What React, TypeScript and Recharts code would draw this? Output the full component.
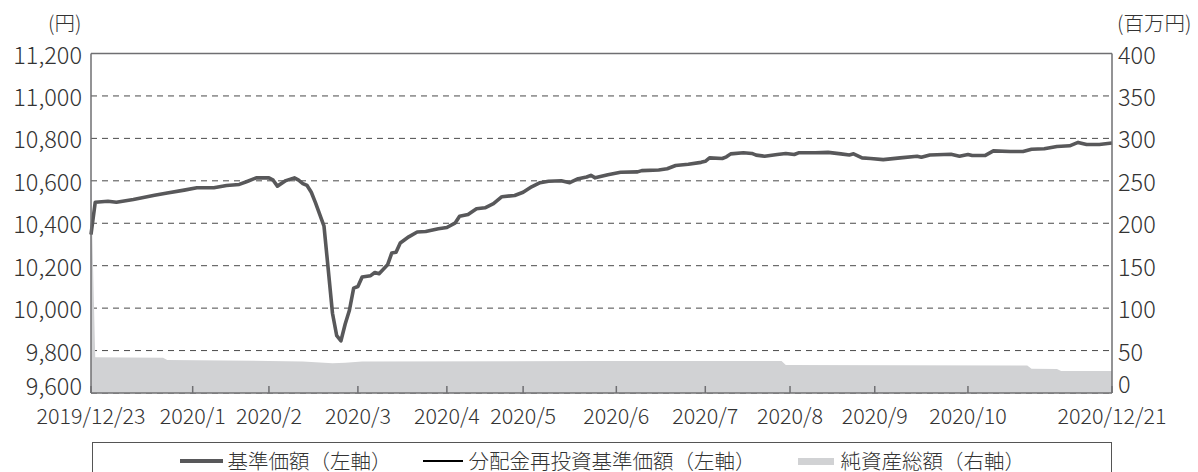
import React from "react";
import {
  ComposedChart,
  Line,
  Area,
  XAxis,
  YAxis,
  CartesianGrid,
  ReferenceLine,
} from "recharts";

// business-day index (0 = 2019/12/23, 241 = 2020/12/21) and 基準価額 (円)
const navPoints: [number, number][] = [
  [0, 10347], [1, 10499], [4, 10504], [6, 10499], [10, 10512], [15, 10532], [18, 10543],
  [22, 10556], [25, 10567], [29, 10567], [32, 10578], [35, 10583], [37, 10598], [39, 10614],
  [42, 10614], [43, 10603], [44, 10575], [46, 10601], [48, 10614], [49, 10603], [50, 10587],
  [51, 10578], [52, 10546], [53, 10496], [55, 10386], [56, 10182], [57, 9976], [58, 9870],
  [59, 9846], [60, 9925], [61, 9990], [62, 10094], [63, 10102], [64, 10147], [66, 10153],
  [67, 10168], [68, 10162], [70, 10204], [71, 10260], [72, 10263], [73, 10307], [75, 10336],
  [77, 10359], [79, 10361], [82, 10374], [84, 10380], [86, 10402], [87, 10433], [89, 10441],
  [91, 10468], [93, 10473], [95, 10492], [97, 10525], [100, 10531], [102, 10546], [104, 10572],
  [106, 10591], [108, 10598], [111, 10600], [113, 10591], [115, 10610], [117, 10618],
  [118, 10626], [119, 10614], [122, 10629], [125, 10640], [129, 10642], [130, 10648],
  [134, 10651], [136, 10657], [138, 10672], [141, 10678], [144, 10687], [145, 10692],
  [146, 10708], [149, 10705], [150, 10713], [151, 10727], [154, 10732], [156, 10729],
  [157, 10721], [159, 10716], [162, 10724], [164, 10729], [166, 10724], [167, 10732],
  [171, 10732], [174, 10734], [177, 10727], [179, 10722], [180, 10727], [182, 10708],
  [184, 10705], [187, 10700], [191, 10708], [195, 10716], [196, 10711], [198, 10722],
  [203, 10725], [205, 10716], [207, 10724], [208, 10719], [211, 10719], [213, 10741],
  [217, 10738], [220, 10738], [222, 10749], [225, 10751], [228, 10762], [231, 10765],
  [233, 10781], [235, 10771], [238, 10771], [241, 10778],
];

// 純資産総額 (百万円)
const assetPoints: [number, number][] = [
  [0, 250], [1, 42], [17, 41.5], [18, 39], [42, 37.7], [50, 37], [57, 35], [60, 35.5],
  [64, 37], [120, 37.7], [163, 37.7], [164, 33], [221, 32.5], [222, 28.5], [228, 28.3],
  [229, 26], [241, 26],
];

const xTickDays = [0, 24, 42, 63, 84, 102, 124, 145, 165, 185, 207, 241];
const xTickLabels = [
  "2019/12/23", "2020/1", "2020/2", "2020/3", "2020/4", "2020/5", "2020/6",
  "2020/7", "2020/8", "2020/9", "2020/10", "2020/12/21",
];
const leftTicks = [9600, 9800, 10000, 10200, 10400, 10600, 10800, 11000, 11200];
const rightTicks = [0, 50, 100, 150, 200, 250, 300, 350, 400];

const navData = navPoints.map(([day, v]) => ({ day, nav: v, reinvest: v }));
const assetData = assetPoints.map(([day, v]) => ({ day, assets: v }));

const FONT = '"Noto Sans CJK JP", "Noto Sans", sans-serif';
const TXT = "#333333";
const AXIS = "#6f6f72";
const WEIGHT = 300;

const XTick = (props: any) => {
  const { x, y, payload } = props;
  const idx = xTickDays.indexOf(payload.value);
  const label = idx >= 0 ? xTickLabels[idx] : "";
  return (
    <g>
      <line x1={x} x2={x} y1={y - 7} y2={y} stroke={AXIS} strokeWidth={1.5} />
      <text
        x={x}
        y={y + 21}
        textAnchor="middle"
        dominantBaseline="central"
        fill={TXT}
        fontSize={21.5}
        fontWeight={WEIGHT}
        fontFamily={FONT}
      >
        {label}
      </text>
    </g>
  );
};

const makeYTick = (
  bottomValue: number,
  bottomShift: number,
  anchor: "start" | "end",
  fmt: (v: number) => string
) =>
  (props: any) => {
    const { x, y, payload } = props;
    const shift = payload.value === bottomValue ? bottomShift : 0;
    return (
      <text
        x={x}
        y={y + shift}
        textAnchor={anchor}
        dominantBaseline="central"
        fill={TXT}
        fontSize={23.5}
        fontWeight={WEIGHT}
        fontFamily={FONT}
      >
        {fmt(payload.value)}
      </text>
    );
  };

const LeftTick = makeYTick(9600, -8, "end", (v) => v.toLocaleString("en-US"));
const RightTick = makeYTick(0, -10, "start", (v) => String(v));

export default function App() {
  return (
    <div
      style={{
        position: "absolute",
        left: 0,
        top: 0,
        width: 1198,
        height: 490,
        background: "#fff",
        fontFamily: FONT,
        fontWeight: WEIGHT,
        overflow: "hidden",
      }}
    >
      <div style={{ position: "absolute", left: 48, top: 12, fontSize: 20.5, color: TXT, lineHeight: "21px" }}>
        (円)
      </div>
      <div style={{ position: "absolute", left: 1117, top: 12, fontSize: 20.5, color: TXT, lineHeight: "21px" }}>
        (百万円)
      </div>
      <ComposedChart
        width={1198}
        height={490}
        margin={{ top: 53.5, right: 0, bottom: 57, left: 0 }}
      >
        <CartesianGrid
          vertical={false}
          yAxisId="left"
          stroke="#4a4a4a"
          strokeDasharray="6 5"
        />
        <XAxis
          dataKey="day"
          type="number"
          domain={[0, 241]}
          ticks={xTickDays}
          interval={0}
          height={40}
          stroke={AXIS}
          strokeWidth={1.5}
          tickLine={false}
          tickSize={0}
          tickMargin={0}
          tick={<XTick />}
        />
        <YAxis
          yAxisId="left"
          orientation="left"
          width={91}
          domain={[9600, 11200]}
          ticks={leftTicks}
          interval={0}
          tickLine={false}
          tickSize={0}
          tickMargin={9}
          stroke={AXIS}
          strokeWidth={1.5}
          tick={<LeftTick />}
        />
        <YAxis
          yAxisId="right"
          orientation="right"
          width={86}
          domain={[0, 400]}
          ticks={rightTicks}
          interval={0}
          tickLine={false}
          tickSize={0}
          tickMargin={6}
          stroke={AXIS}
          strokeWidth={1.5}
          tick={<RightTick />}
        />
        <ReferenceLine yAxisId="left" y={11200} stroke={AXIS} strokeWidth={1.5} />
        <Area
          yAxisId="right"
          data={assetData}
          dataKey="assets"
          type="linear"
          fill="#d1d2d4"
          fillOpacity={1}
          stroke="none"
          isAnimationActive={false}
        />
        <Line
          yAxisId="left"
          data={navData}
          dataKey="reinvest"
          type="linear"
          stroke="#000"
          strokeWidth={1}
          dot={false}
          isAnimationActive={false}
        />
        <Line
          yAxisId="left"
          data={navData}
          dataKey="nav"
          type="linear"
          stroke="#58585a"
          strokeWidth={3.6}
          strokeLinejoin="round"
          dot={false}
          isAnimationActive={false}
        />
      </ComposedChart>
      <div
        style={{
          position: "absolute",
          left: 91.5,
          top: 441.5,
          width: 1020,
          height: 40,
          border: "1px solid #555",
          boxSizing: "border-box",
          fontSize: 20.5,
          color: TXT,
          lineHeight: "18px",
        }}
      >
        <span style={{ position: "absolute", left: 87, top: 16.5, width: 43, height: 4, background: "#58585a" }} />
        <span style={{ position: "absolute", left: 135, top: 8, whiteSpace: "nowrap" }}>基準価額（左軸）</span>
        <span style={{ position: "absolute", left: 330, top: 17.5, width: 40, height: 2, background: "#000" }} />
        <span style={{ position: "absolute", left: 376, top: 8, whiteSpace: "nowrap" }}>分配金再投資基準価額（左軸）</span>
        <span style={{ position: "absolute", left: 705, top: 15, width: 36, height: 7, background: "#d1d2d4" }} />
        <span style={{ position: "absolute", left: 748, top: 8, whiteSpace: "nowrap" }}>純資産総額（右軸）</span>
      </div>
    </div>
  );
}
